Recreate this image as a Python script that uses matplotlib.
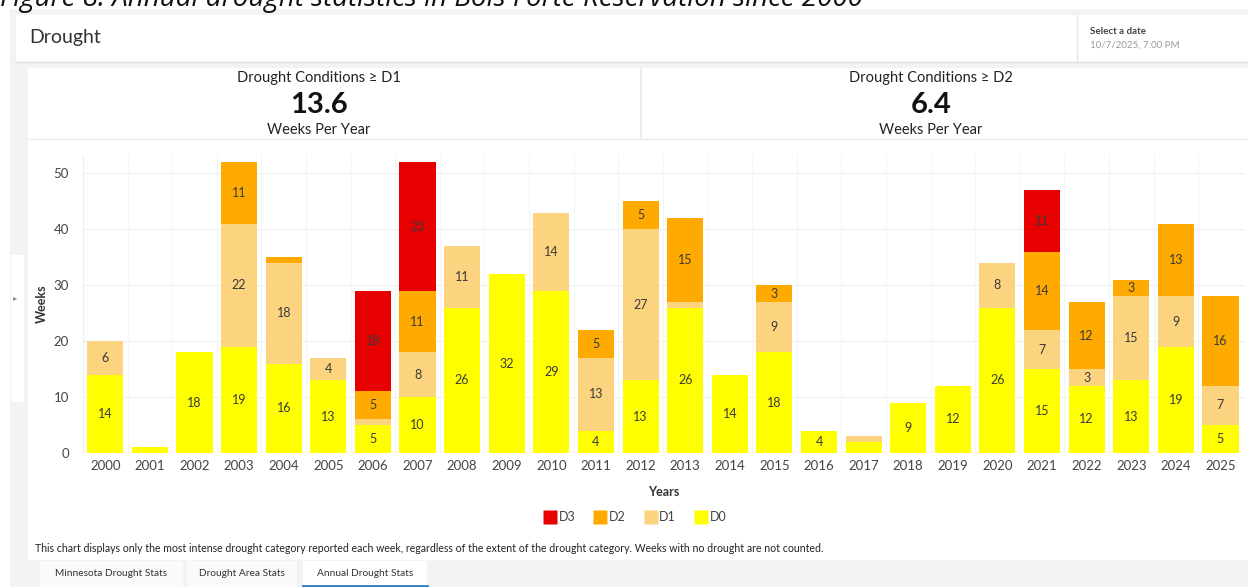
import numpy as np
import matplotlib
matplotlib.use("Agg")
import matplotlib.pyplot as plt
from matplotlib.patches import Rectangle
from matplotlib.lines import Line2D

plt.rcParams['font.family'] = ['Lato', 'DejaVu Sans']

# weeks per year in each drought category (most intense category per week)
years = [str(y) for y in range(2000, 2026)]
d0 = [14, 1, 18, 19, 16, 13, 5, 10, 26, 32, 29, 4, 13, 26, 14, 18, 4, 2, 9, 12, 26, 15, 12, 13, 19, 5]
d1 = [6, 0, 0, 22, 18, 4, 1, 8, 11, 0, 14, 13, 27, 1, 0, 9, 0, 1, 0, 0, 8, 7, 3, 15, 9, 7]
d2 = [0, 0, 0, 11, 1, 0, 5, 11, 0, 0, 0, 5, 5, 15, 0, 3, 0, 0, 0, 0, 0, 14, 12, 3, 13, 16]
d3 = [0, 0, 0, 0, 0, 0, 18, 23, 0, 0, 0, 0, 0, 0, 0, 0, 0, 0, 0, 0, 0, 11, 0, 0, 0, 0]

stat_d1 = "13.6"
stat_d2 = "6.4"

colors = {'D0': '#ffff00', 'D1': '#fcd37f', 'D2': '#ffaa00', 'D3': '#e60000'}

W, H = 1248, 587
fig = plt.figure(figsize=(W / 100, H / 100), dpi=100)
fig.patch.set_facecolor('white')


def fx(x):
    return x / W


def fy(y):
    return 1 - y / H


def panel(x0, y0, x1, y1, fc='white', ec='none', lw=0.8, z=0):
    r = Rectangle((fx(x0), fy(y1)), fx(x1) - fx(x0), fy(y0) - fy(y1),
                  transform=fig.transFigure, facecolor=fc, edgecolor=ec,
                  linewidth=lw, zorder=z)
    fig.add_artist(r)


def hline(y, x0, x1, c='#e4e4e4', lw=1):
    fig.add_artist(Line2D([fx(x0), fx(x1)], [fy(y), fy(y)], transform=fig.transFigure,
                          color=c, lw=lw, zorder=1))


def vline(x, y0, y1, c='#e4e4e4', lw=1):
    fig.add_artist(Line2D([fx(x), fx(x)], [fy(y0), fy(y1)], transform=fig.transFigure,
                          color=c, lw=lw, zorder=1))


# page background and panels
panel(10, 9, W, H, fc='#f3f3f3')
panel(16, 15, W, 62, fc='white')
hline(62, 16, W, c='#dedede')
vline(1077, 15, 62, c='#e6e6e6')
panel(28, 68, W, 560, fc='white')
hline(139, 28, W, c='#ededed')
vline(641, 69, 139, c='#ededed', lw=1.5)
panel(11, 255, 24, 402, fc='white')
fig.text(fx(15), fy(298), '\u25b8', fontsize=6, color='#888888', ha='center', va='center')

# caption (its top is cut off in the source image)
fig.text(fx(0), fy(6), 'Figure 8: Annual drought statistics in Bois Forte Reservation since 2000',
         fontsize=20, style='italic', family=['Open Sans', 'DejaVu Sans'],
         ha='left', va='baseline', color='#111111')

fig.text(fx(29), fy(38), 'Drought', fontsize=14, color='#333333', ha='left', va='center')
fig.text(fx(1090), fy(31), 'Select a date', fontsize=7, color='#444444', weight='bold',
         ha='left', va='center')
fig.text(fx(1090), fy(45), '10/7/2025, 7:00 PM', fontsize=7, color='#9a9a9a',
         ha='left', va='center')

# summary stats
for cx, lab, val in [(319, 'Drought Conditions \u2265 D1', stat_d1),
                     (931, 'Drought Conditions \u2265 D2', stat_d2)]:
    fig.text(fx(cx), fy(78), lab, fontsize=10.5, color='#222222', ha='center', va='center')
    fig.text(fx(cx), fy(105), val, fontsize=21, color='#111111', weight='bold',
             ha='center', va='center')
    fig.text(fx(cx), fy(130), 'Weeks Per Year', fontsize=10.5, color='#222222',
             ha='center', va='center')

# chart
ax = fig.add_axes([fx(83), fy(453), fx(1245) - fx(83), fy(155) - fy(453)])
ax.set_facecolor('white')
x = np.arange(len(years))
bw = 0.81

bottom = np.zeros(len(years))
for key, vals in [('D0', d0), ('D1', d1), ('D2', d2), ('D3', d3)]:
    vals = np.array(vals)
    bars = ax.bar(x, vals, bw, bottom=bottom, color=colors[key], edgecolor='none',
                  label=key, zorder=3)
    ax.bar_label(bars, labels=[str(v) if v >= 3 else '' for v in vals],
                 label_type='center', fontsize=9, color='#3a3a3a', zorder=4)
    bottom = bottom + vals

ax.set_xlim(-0.5, 25.55)
ax.set_ylim(0, 53.3)
ax.set_yticks(range(0, 51, 10))
ax.set_xticks(x)
ax.set_xticklabels(years)
ax.tick_params(axis='both', length=0, labelsize=9.5, labelcolor='#444444')
ax.tick_params(axis='x', pad=5)
ax.tick_params(axis='y', pad=10)
for s in ['top', 'right', 'bottom']:
    ax.spines[s].set_visible(False)
ax.spines['left'].set_color('#eeeeee')
ax.axhline(0, color='#e0e0e0', lw=1, zorder=2)
for t in range(10, 51, 10):
    ax.axhline(t, color='#efefef', lw=0.8, zorder=1)
for b in np.arange(0.5, 25, 1):
    ax.axvline(b, color='#f5f5f5', lw=0.8, zorder=1)

ax.set_ylabel('Weeks', fontsize=9, weight='bold', color='#333333', labelpad=4)
ax.set_xlabel('Years', fontsize=9, weight='bold', color='#333333', labelpad=10)

handles = [Line2D([0], [0], marker='s', linestyle='none', markersize=10,
                  markerfacecolor=colors[k], markeredgecolor='none', label=k)
           for k in ['D3', 'D2', 'D1', 'D0']]
fig.legend(handles=handles, loc='center', bbox_to_anchor=(fx(635), fy(517)), ncol=4,
           frameon=False, fontsize=9, handletextpad=0.2, columnspacing=1.5,
           handlelength=1.0, labelcolor='#444444')

fig.text(fx(35), fy(549), 'This chart displays only the most intense drought category reported each week, '
         'regardless of the extent of the drought category. Weeks with no drought are not counted.',
         fontsize=7.6, color='#222222', ha='left', va='center')

# tabs
tabs = [('Minnesota Drought Stats', 40, 183), ('Drought Area Stats', 187, 297),
        ('Annual Drought Stats', 303, 427)]
for i, (name, x0, x1) in enumerate(tabs):
    panel(x0, 561, x1, H, fc='white' if i == 2 else '#fafafa')
    fig.text(fx((x0 + x1) / 2), fy(574), name, fontsize=7.3, color='#333333',
             ha='center', va='center')
hline(586, 303, 427, c='#2f7fc1', lw=2)

fig.savefig('out.png', dpi=100)
